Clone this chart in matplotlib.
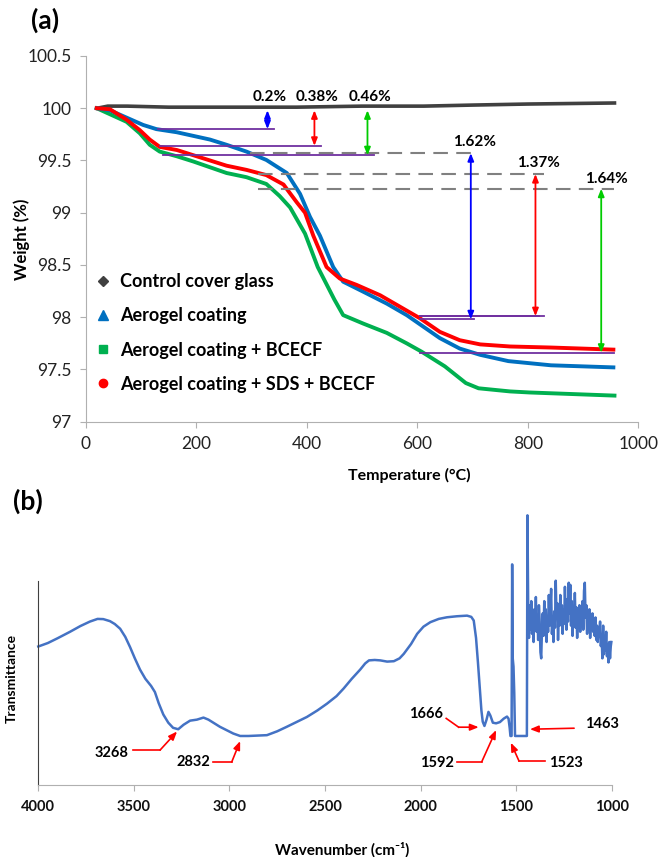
import matplotlib
matplotlib.use('Agg')
import matplotlib.pyplot as plt
from matplotlib.lines import Line2D
from matplotlib.ticker import FuncFormatter

plt.rcParams['font.family'] = ['Lato', 'DejaVu Sans']

# ---------- (a) TGA data ----------
temp_ctrl = [21, 40, 75, 150, 250, 382, 500, 612, 700, 800, 957]
w_ctrl = [100.0, 100.02, 100.02, 100.01, 100.01, 100.01, 100.02, 100.02, 100.03, 100.04, 100.05]

temp_aero = [20, 44, 74, 104, 128, 165, 195, 225, 255, 291, 327, 364, 388, 406, 424, 448, 466,
             502, 545, 581, 611, 641, 677, 714, 765, 842, 955]
w_aero = [100.0, 99.98, 99.91, 99.84, 99.80, 99.77, 99.735, 99.70, 99.65, 99.585, 99.505, 99.38,
          99.18, 98.96, 98.78, 98.48, 98.34, 98.245, 98.13, 98.02, 97.91, 97.80, 97.70, 97.64,
          97.58, 97.54, 97.52]

temp_bcecf = [20, 74, 98, 116, 134, 165, 195, 225, 255, 291, 327, 351, 370, 397, 420, 450, 466,
              502, 545, 581, 608, 650, 688, 711, 768, 803, 957]
w_bcecf = [100.0, 99.87, 99.76, 99.65, 99.585, 99.54, 99.49, 99.435, 99.38, 99.34, 99.275, 99.16,
           99.05, 98.80, 98.48, 98.17, 98.02, 97.94, 97.85, 97.75, 97.67, 97.53, 97.37, 97.32,
           97.29, 97.28, 97.25]

temp_sds = [20, 44, 74, 98, 116, 134, 165, 195, 225, 255, 291, 327, 358, 382, 397, 412, 436, 460,
            490, 533, 569, 605, 641, 677, 714, 768, 842, 955]
w_sds = [100.0, 99.99, 99.89, 99.79, 99.70, 99.63, 99.60, 99.55, 99.50, 99.45, 99.41, 99.36, 99.27,
         99.10, 99.0, 98.78, 98.48, 98.37, 98.31, 98.21, 98.10, 97.99, 97.86, 97.78, 97.74, 97.72,
         97.71, 97.69]

labels_a = ['Control cover glass', 'Aerogel coating', 'Aerogel coating + BCECF',
            'Aerogel coating + SDS + BCECF']

# step-loss annotations
first_loss_x = [329, 414, 510]
first_loss_top = [99.98, 99.98, 99.98]
first_loss_bot = [99.80, 99.64, 99.55]
first_loss_txt = ['0.2%', '0.38%', '0.46%']
second_loss_x = [697, 814, 933]
second_loss_top = [99.57, 99.37, 99.23]
second_loss_bot = [97.98, 98.01, 97.66]
second_loss_txt = ['1.62%', '1.37%', '1.64%']

# ---------- (b) FTIR data ----------
wn = [4000, 3950, 3900, 3834, 3780, 3730, 3690, 3660, 3625, 3600, 3572, 3545, 3520, 3495, 3468,
      3440, 3410, 3390, 3370, 3346, 3320, 3295, 3268, 3240, 3206, 3170, 3136, 3110, 3084, 3050,
      3014, 2980, 2944, 2900, 2850, 2804, 2750, 2700, 2650, 2595, 2540, 2490, 2440, 2403, 2360,
      2316, 2290, 2270, 2240, 2211, 2175, 2140, 2110, 2088, 2050, 2018, 1985, 1949, 1905, 1862,
      1810, 1757, 1735, 1722, 1710, 1700, 1690, 1682, 1675, 1666, 1655, 1645, 1635, 1622, 1605,
      1585, 1565, 1548, 1540, 1534, 1530, 1524, 1521, 1518, 1514, 1510, 1506, 1444, 1441,
      1437, 1433, 1429, 1425, 1421, 1417, 1413, 1409, 1405, 1401, 1397, 1393, 1389, 1385, 1381,
      1377, 1373, 1369, 1365, 1361, 1357, 1353, 1349, 1345, 1341, 1337, 1333, 1329, 1325, 1321,
      1317, 1313, 1309, 1305, 1301, 1297, 1293, 1289, 1285, 1281, 1277, 1273, 1269, 1265, 1261,
      1257, 1253, 1249, 1245, 1241, 1237, 1233, 1229, 1225, 1221, 1217, 1213, 1209, 1205, 1201,
      1197, 1193, 1189, 1185, 1181, 1177, 1173, 1169, 1165, 1161, 1157, 1153, 1149, 1145, 1141,
      1137, 1133, 1129, 1125, 1121, 1117, 1113, 1109, 1105, 1101, 1097, 1093, 1089, 1085, 1081,
      1077, 1073, 1069, 1065, 1061, 1057, 1053, 1049, 1045, 1041, 1037, 1033, 1029, 1025, 1021,
      1017, 1013, 1009, 1005, 1002]
trans = [67.8, 69.5, 71.8, 75.0, 77.8, 80.0, 81.3, 81.2, 80.2, 78.8, 76.5, 72.5, 67.5, 62.0, 56.5,
         52.0, 48.5, 45.5, 40.0, 34.5, 30.5, 28.0, 27.3, 29.5, 31.5, 32.0, 33.0, 32.0, 30.5, 28.5,
         26.8, 25.2, 24.0, 24.0, 24.2, 24.4, 26.3, 28.5, 30.8, 33.3, 36.5, 39.8, 43.5, 47.2, 52.0,
         56.5, 59.5, 61.0, 61.2, 61.0, 60.4, 60.6, 62.0, 64.2, 69.0, 74.0, 77.5, 79.7, 81.3, 82.1,
         82.6, 82.9, 82.3, 80.5, 72.0, 60.0, 47.0, 36.6, 31.0, 28.9, 32.0, 35.8, 34.0, 30.5, 30.2,
         30.8, 32.5, 33.5, 32.5, 28.0, 24.0, 24.0, 108.0, 62.0, 58.0, 45.0, 24.0, 24.0, 132.0,
         85, 72, 88, 76, 90, 74, 84, 70, 86, 78, 92, 75, 83, 71, 88,
         80, 65, 62, 76, 84, 73, 90, 79, 86, 70, 82, 75, 93, 78, 87,
         96, 74, 80, 70, 85, 77, 100, 82, 89, 71, 84, 78, 93, 81, 88,
         74, 86, 79, 97, 83, 76, 91, 80, 99, 84, 98, 78, 90, 73, 85,
         80, 94, 77, 87, 72, 83, 79, 88, 75, 84, 80, 90, 76, 95, 99,
         82, 88, 74, 85, 79, 86, 72, 81, 77, 84, 75, 80, 73, 82, 71,
         78, 70, 76, 74, 80, 68, 73, 62, 78, 64, 71, 66, 75, 63, 69,
         60, 70, 62, 68, 70]

peak_txt = ['3268', '2832', '1666', '1592', '1523', '1463']

# ---------- figure ----------
fig = plt.figure(figsize=(6.64, 8.57), dpi=100)
ax1 = fig.add_axes([0.129, 0.5079, 0.8322, 0.4268])
ax2 = fig.add_axes([0.0577, 0.0840, 0.8636, 0.2384])

c_ctrl, c_aero, c_bcecf, c_sds = '#404040', '#0070C0', '#00B050', '#FF0000'
ax1.plot(temp_ctrl, w_ctrl, color=c_ctrl, lw=2.6)
ax1.plot(temp_bcecf, w_bcecf, color=c_bcecf, lw=2.8)
ax1.plot(temp_aero, w_aero, color=c_aero, lw=2.8)
ax1.plot(temp_sds, w_sds, color=c_sds, lw=2.8)

purple = '#7030A0'
arrow_cols = ['#0000FF', '#FF0000', '#00CC00']
plateau_start = [131, 134, 140]
for i in range(3):
    ax1.plot([plateau_start[i], first_loss_x[i] + 12], [first_loss_bot[i]] * 2, color=purple, lw=1.3)
    ax1.annotate('', xy=(first_loss_x[i], first_loss_bot[i]), xytext=(first_loss_x[i], first_loss_top[i]),
                 arrowprops=dict(arrowstyle='<|-|>,head_length=0.45,head_width=0.18',
                                 color=arrow_cols[i], lw=1.3, shrinkA=0, shrinkB=0))
    ax1.text(first_loss_x[i] + 4, 100.11, first_loss_txt[i], ha='center', va='center',
             fontsize=11, fontweight='bold')

dash_start = [297, 312, 312]
dash_end = [701, 830, 956]
for i in range(3):
    ax1.plot([dash_start[i], dash_end[i]], [second_loss_top[i]] * 2, color='#808080', lw=1.5,
             dashes=(7, 4))
    ax1.plot([605, second_loss_x[i] + 6 if i < 2 else 956], [second_loss_bot[i]] * 2,
             color=purple, lw=1.3)
    ax1.annotate('', xy=(second_loss_x[i], second_loss_bot[i]), xytext=(second_loss_x[i], second_loss_top[i]),
                 arrowprops=dict(arrowstyle='<|-|>,head_length=0.45,head_width=0.18',
                                 color=arrow_cols[i], lw=1.3, shrinkA=0, shrinkB=0))
ax1.plot([605, 830], [98.01, 98.01], color=purple, lw=1.3)
txt_y = [99.68, 99.48, 99.32]
txt_x = [704, 820, 942]
for i in range(3):
    ax1.text(txt_x[i], txt_y[i], second_loss_txt[i], ha='center', va='center',
             fontsize=11, fontweight='bold')

handles = [Line2D([], [], ls='none', marker='D', ms=5, color=c_ctrl),
           Line2D([], [], ls='none', marker='^', ms=7, color=c_aero),
           Line2D([], [], ls='none', marker='s', ms=6, color=c_bcecf),
           Line2D([], [], ls='none', marker='o', ms=6, color=c_sds)]
leg = ax1.legend(handles, labels_a, loc='lower left', bbox_to_anchor=(-0.015, 0.035), frameon=False,
                 prop={'weight': 'bold', 'size': 13}, handlelength=1.0, handletextpad=0.45,
                 labelspacing=0.95)

ax1.set_xlim(0, 1000)
ax1.set_ylim(97, 100.5)
ax1.set_xticks(range(0, 1001, 200))
ax1.set_yticks([97, 97.5, 98, 98.5, 99, 99.5, 100, 100.5])
ax1.yaxis.set_major_formatter(FuncFormatter(lambda v, p: '%g' % v))
for s in ['top', 'right']:
    ax1.spines[s].set_visible(False)
for s in ['left', 'bottom']:
    ax1.spines[s].set_color('#B0B0B0')
ax1.tick_params(axis='both', colors='#B0B0B0', labelcolor='#222222', labelsize=12.5, length=4, pad=6)
ax1.set_ylabel('Weight (%)', fontsize=12, fontweight='bold')
ax1.yaxis.set_label_coords(-0.10, 0.5)
ax1.set_xlabel('Temperature (°C)', fontsize=11.5, fontweight='bold')
ax1.xaxis.set_label_coords(0.585, -0.127)

fig.text(0.068, 0.9767, '(a)', fontsize=19, fontweight='bold', ha='center', va='center')
fig.text(0.0414, 0.4146, '(b)', fontsize=19, fontweight='bold', ha='center', va='center')

# ---------- (b) ----------
ax2.plot(wn, trans, color='#4472C4', lw=1.8, clip_on=False)
ax2.set_xlim(4000, 1000)
ax2.set_ylim(0, 100)
ax2.set_xticks(range(4000, 999, -500))
ax2.set_yticks([])
for s in ['top', 'right']:
    ax2.spines[s].set_visible(False)
ax2.spines['left'].set_color('#404040')
ax2.spines['bottom'].set_color('#B0B0B0')
ax2.tick_params(axis='x', colors='#B0B0B0', labelcolor='#111111', labelsize=10.5, length=4, pad=7)
for lab in ax2.get_xticklabels():
    lab.set_fontweight('bold')
ax2.set_xlabel('Wavenumber (cm⁻¹)', fontsize=11, fontweight='bold')
ax2.xaxis.set_label_coords(0.53, -0.282)
ax2.set_ylabel('Transmittance', fontsize=10, fontweight='bold')
ax2.yaxis.set_label_coords(-0.036, 0.52)

# arrows: text pos, line start, elbow, tip
arr_text = [(3617, 15.8), (3189, 11.1), (1974, 34.6), (1915, 10.9), (1240, 10.9), (1052, 29.7)]
arr_start = [(3503, 17.1), (3084, 11.3), (1866, 32.6), (1810, 11.4), (1351, 11.7), (1197, 27.8)]
arr_elbow = [(3363, 17.1), (2988, 11.3), (1801, 28.3), (1680, 11.4), (1485, 11.7), (1197, 27.8)]
arr_tip = [(3274, 26.2), (2944, 21.5), (1696, 28.3), (1605, 26.9), (1528, 20.7), (1428, 27.3)]
for i in range(6):
    ax2.text(arr_text[i][0], arr_text[i][1], peak_txt[i], ha='center', va='center',
             fontsize=10.5, fontweight='bold')
    ax2.plot([arr_start[i][0], arr_elbow[i][0]], [arr_start[i][1], arr_elbow[i][1]], color='red', lw=1.2)
    ax2.annotate('', xy=arr_tip[i], xytext=arr_elbow[i],
                 arrowprops=dict(arrowstyle='-|>,head_length=0.5,head_width=0.2', color='red',
                                 lw=1.2, shrinkA=0, shrinkB=0))

fig.savefig('out.png', dpi=100)
